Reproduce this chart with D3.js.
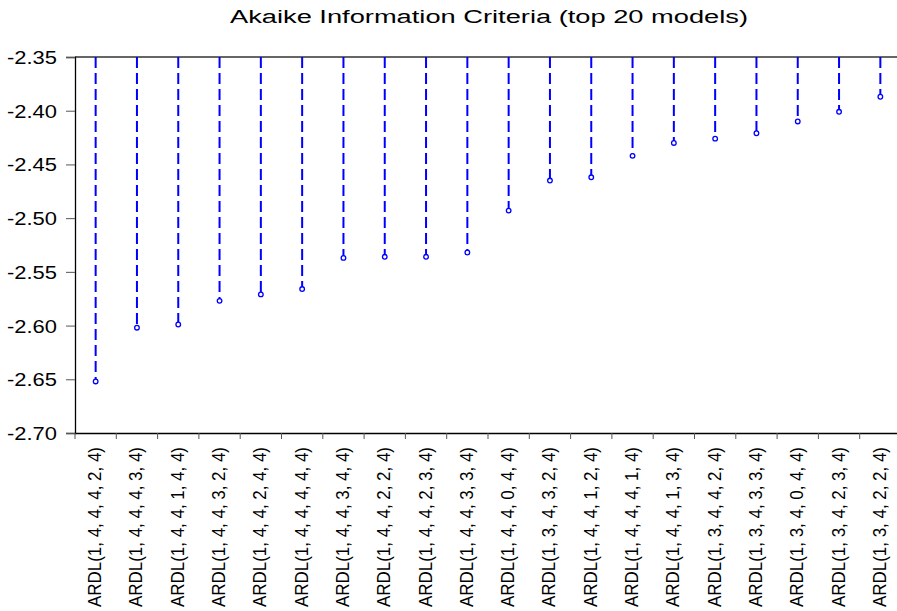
<!DOCTYPE html>
<html lang="en">
<head>
<meta charset="utf-8">
<title>Akaike Information Criteria</title>
<script src="https://cdn.jsdelivr.net/npm/d3@7"></script>
<style>
  body { margin: 0; background: #fff; }
  svg text { font-family: "Liberation Sans", Arial, sans-serif; fill: #000; }
</style>
</head>
<body>
<script>
// model names (x axis) and their AIC values
var models = [
  "ARDL(1, 4, 4, 4, 2, 4)", "ARDL(1, 4, 4, 4, 3, 4)", "ARDL(1, 4, 4, 1, 4, 4)",
  "ARDL(1, 4, 4, 3, 2, 4)", "ARDL(1, 4, 4, 2, 4, 4)", "ARDL(1, 4, 4, 4, 4, 4)",
  "ARDL(1, 4, 4, 3, 4, 4)", "ARDL(1, 4, 4, 2, 2, 4)", "ARDL(1, 4, 4, 2, 3, 4)",
  "ARDL(1, 4, 4, 3, 3, 4)", "ARDL(1, 4, 4, 0, 4, 4)", "ARDL(1, 3, 4, 3, 2, 4)",
  "ARDL(1, 4, 4, 1, 2, 4)", "ARDL(1, 4, 4, 4, 1, 4)", "ARDL(1, 4, 4, 1, 3, 4)",
  "ARDL(1, 3, 4, 4, 2, 4)", "ARDL(1, 3, 4, 3, 3, 4)", "ARDL(1, 3, 4, 0, 4, 4)",
  "ARDL(1, 3, 4, 2, 3, 4)", "ARDL(1, 3, 4, 2, 2, 4)"
];
var aic = [
  -2.652, -2.602, -2.599, -2.577, -2.571, -2.566, -2.537, -2.536, -2.536, -2.532,
  -2.493, -2.465, -2.462, -2.442, -2.430, -2.426, -2.421, -2.410, -2.401, -2.387
];
var yTicks = [-2.35, -2.40, -2.45, -2.50, -2.55, -2.60, -2.65, -2.70];

var w = 897, h = 611;
var padLeft = 75, padRight = 901, padTop = 57, padBottom = 433;

var svg = d3.select("body").append("svg")
  .attr("width", w)
  .attr("height", h);

var xScale = d3.scaleBand()
  .domain(models)
  .range([padLeft, padRight]);

var yScale = d3.scaleLinear()
  .domain([-2.70, -2.35])
  .range([padBottom, padTop]);

// title (reference text is stretched wide)
svg.append("text")
  .attr("x", 489)
  .attr("y", 23)
  .attr("text-anchor", "middle")
  .attr("textLength", 518)
  .attr("lengthAdjust", "spacingAndGlyphs")
  .style("font-size", "18px")
  .text("Akaike Information Criteria (top 20 models)");

// top frame line
svg.append("line")
  .attr("x1", padLeft).attr("x2", w)
  .attr("y1", padTop).attr("y2", padTop)
  .attr("stroke", "#333")
  .attr("stroke-width", 1.3);

// y axis
var yAxis = d3.axisLeft(yScale)
  .tickValues(yTicks)
  .tickSize(9)
  .tickPadding(9)
  .tickFormat(d3.format(".2f"));

var gy = svg.append("g")
  .attr("transform", "translate(" + padLeft + ",0)")
  .call(yAxis);
gy.select(".domain").attr("stroke", "#000").attr("stroke-width", 1.3);
gy.selectAll(".tick line").attr("stroke", "#555");
gy.selectAll(".tick text")
  .text(function(d) { return "-" + d3.format(".2f")(-d); })
  .style("font-size", "18px")
  .style("font-family", "'Liberation Sans', Arial, sans-serif")
  .attr("textLength", 50)
  .attr("lengthAdjust", "spacingAndGlyphs")
  .attr("dy", "0.36em");

// x axis: ticks between categories
var xAxis = d3.axisBottom(xScale).tickSize(0).tickFormat("");
var gx = svg.append("g")
  .attr("transform", "translate(0," + padBottom + ")")
  .call(xAxis);
gx.select(".domain").attr("stroke", "#000").attr("stroke-width", 1.3);

var step = xScale.step();
gx.selectAll(".sep")
  .data(d3.range(models.length + 1))
  .enter()
  .append("line")
  .attr("x1", function(i) { return padLeft + i * step; })
  .attr("x2", function(i) { return padLeft + i * step; })
  .attr("y1", 0)
  .attr("y2", 6)
  .attr("stroke", "#555");

// rotated category labels
svg.selectAll(".lab")
  .data(models)
  .enter()
  .append("text")
  .attr("class", "lab")
  .attr("transform", function(d) {
    return "translate(" + (xScale(d) + xScale.bandwidth() / 2 + 5.5) + "," + (padBottom + 14) + ") rotate(-90)";
  })
  .attr("text-anchor", "end")
  .attr("textLength", 160)
  .attr("lengthAdjust", "spacingAndGlyphs")
  .style("font-size", "19px")
  .text(function(d) { return d; });

// dashed drop lines from top
svg.selectAll(".drop")
  .data(aic)
  .enter()
  .append("line")
  .attr("x1", function(d, i) { return xScale(models[i]) + xScale.bandwidth() / 2; })
  .attr("x2", function(d, i) { return xScale(models[i]) + xScale.bandwidth() / 2; })
  .attr("y1", padTop)
  .attr("y2", function(d) { return yScale(d); })
  .attr("stroke", "#0000ff")
  .attr("stroke-width", 2)
  .attr("stroke-dasharray", "11,5");

// end markers
svg.selectAll(".pt")
  .data(aic)
  .enter()
  .append("circle")
  .attr("cx", function(d, i) { return xScale(models[i]) + xScale.bandwidth() / 2; })
  .attr("cy", function(d) { return yScale(d); })
  .attr("r", 2.3)
  .attr("fill", "#fff")
  .attr("stroke", "#0000ff")
  .attr("stroke-width", 1.3);
</script>
</body>
</html>
